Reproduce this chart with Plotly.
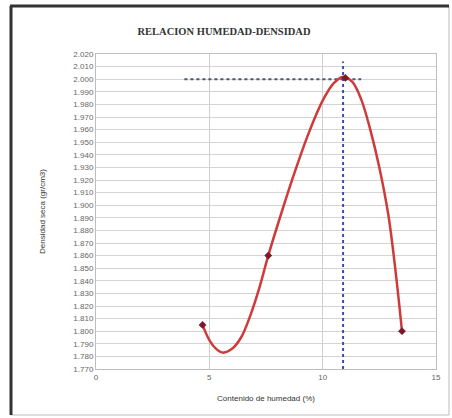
import plotly.graph_objects as go

# Measured points
humedad = [4.7, 7.6, 11.0, 13.5]
densidad = [1.805, 1.860, 2.001, 1.800]

# Trend curve
curva_x = [4.7, 5.0, 5.3, 5.6, 6.0, 6.4, 6.8, 7.2, 7.6, 8.2, 8.8, 9.4, 10.0, 10.5, 10.9, 11.3, 11.7, 12.1, 12.5, 12.9, 13.2, 13.5]
curva_y = [1.805, 1.793, 1.786, 1.783, 1.786, 1.795, 1.812, 1.834, 1.860, 1.895, 1.928, 1.958, 1.983, 1.997, 2.002, 1.998, 1.984, 1.960, 1.930, 1.892, 1.850, 1.800]

# Optimum reference lines
opt_x_line = [3.9, 11.7]
opt_y_line = [2.000, 2.000]
vert_x_line = [10.9, 10.9]
vert_y_line = [1.770, 2.014]

title_text = "RELACION HUMEDAD-DENSIDAD"
x_title = "Contenido de humedad (%)"
y_title = "Densidad seca (gr/cm3)"

fig = go.Figure()

fig.add_trace(go.Scatter(x=opt_x_line, y=opt_y_line, mode="lines",
                         line=dict(color="#4a5678", width=2, dash="dot"),
                         hoverinfo="skip", showlegend=False))
fig.add_trace(go.Scatter(x=vert_x_line, y=vert_y_line, mode="lines",
                         line=dict(color="#3b4fa8", width=2, dash="dot"),
                         hoverinfo="skip", showlegend=False))
fig.add_trace(go.Scatter(x=curva_x, y=curva_y, mode="lines",
                         line=dict(color="#cf3a3a", width=2.5, shape="spline", smoothing=1),
                         showlegend=False))
fig.add_trace(go.Scatter(x=humedad, y=densidad, mode="markers",
                         marker=dict(color="#7a1a2a", size=6, symbol="diamond"),
                         showlegend=False))

L, R, T, B = 96, 436, 54, 369
W, H = 452, 418
pw, ph = R - L, B - T

def px(xp):
    return (xp - L) / pw

def py(yp):
    return (B - yp) / ph

shapes = [
    dict(type="rect", xref="paper", yref="paper", x0=px(11), x1=px(449), y0=py(415), y1=py(6),
         line=dict(color="#bbbbbb", width=1), layer="below"),
    dict(type="line", xref="paper", yref="paper", x0=px(10), x1=px(449), y0=py(6), y1=py(6),
         line=dict(color="#333333", width=3)),
    dict(type="line", xref="paper", yref="paper", x0=px(11), x1=px(11), y0=py(415), y1=py(6),
         line=dict(color="#333333", width=3)),
]

fig.update_layout(
    width=W, height=H,
    margin=dict(l=L, r=W - R, t=T, b=H - B),
    paper_bgcolor="white", plot_bgcolor="white",
    shapes=shapes,
    title=dict(text="<b>" + title_text + "</b>", x=px(224), xref="paper", xanchor="center",
               y=1 - 31 / H, yanchor="middle",
               font=dict(family="Liberation Serif", size=10.5, color="#333333")),
    xaxis=dict(range=[0, 15], tickvals=[0, 5, 10, 15], showgrid=True, gridcolor="#cfcfcf",
               gridwidth=1, zeroline=False, showline=True, linecolor="#bdbdbd", mirror=True,
               ticks="", tickfont=dict(family="Liberation Sans", size=8, color="#666666"),
               title=dict(text=x_title, font=dict(family="Liberation Sans", size=8, color="#333333"),
                          standoff=14)),
    yaxis=dict(range=[1.770, 2.020], dtick=0.01, tick0=1.77, tickformat=".3f",
               showgrid=True, gridcolor="#d4d4d4", gridwidth=1, zeroline=False,
               showline=True, linecolor="#bdbdbd", mirror=True, ticks="",
               tickfont=dict(family="Liberation Sans", size=8, color="#666666"),
               title=dict(text=y_title, font=dict(family="Liberation Sans", size=8, color="#333333"),
                          standoff=26)),
)

fig.write_html("out.html")
